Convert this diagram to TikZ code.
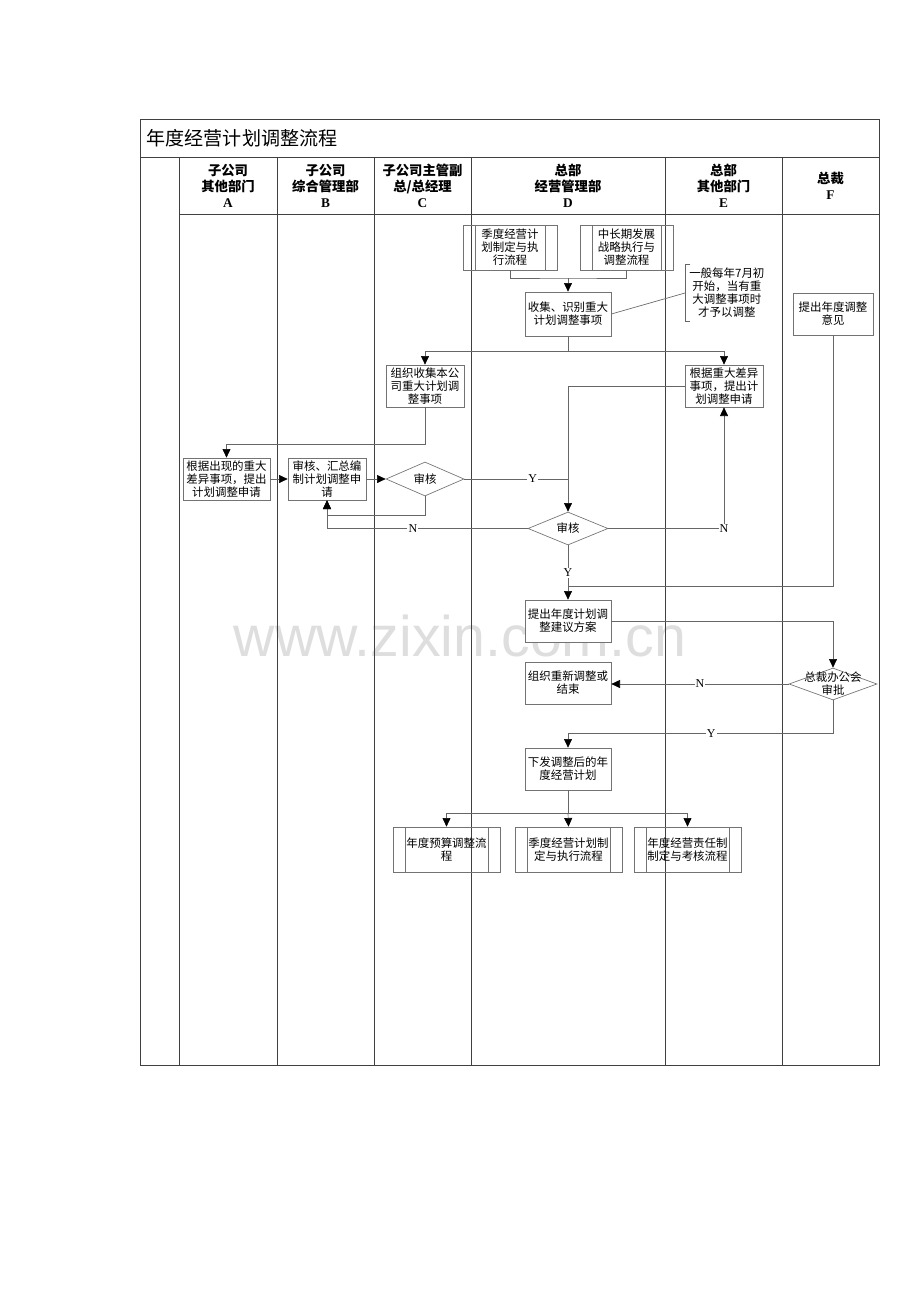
\documentclass[tikz,border=0pt]{standalone}
\usepackage{fontspec}
\setmainfont{Noto Sans CJK SC}
\newfontfamily\latinfont{Liberation Serif}
\newfontfamily\markfont{Liberation Sans}
\usetikzlibrary{arrows.meta,shapes.geometric}

\newcommand{\boxfont}{\fontsize{8.6pt}{9.8pt}\selectfont}
\newcommand{\headfont}{\fontsize{10pt}{12pt}\selectfont\bfseries}
\newcommand{\titlefont}{\fontsize{14.3pt}{16pt}\selectfont}
\newcommand{\ynfont}{\latinfont\fontsize{9pt}{10pt}\selectfont}

\tikzset{
  lane/.style={draw=black!75, line width=0.6pt},
  procbox/.style={rectangle, draw=black!55, line width=0.5pt, align=center, inner sep=1pt, font=\boxfont},
  subproc/.style={procbox, path picture={
      \draw[black!55] ([xshift=9pt]path picture bounding box.north west) -- ([xshift=9pt]path picture bounding box.south west)
        ([xshift=-9pt]path picture bounding box.north east) -- ([xshift=-9pt]path picture bounding box.south east);}},
  decide/.style={diamond, aspect=2.3, draw=black!55, line width=0.5pt, fill=white, inner sep=1pt, font=\boxfont},
  link/.style={draw=black!60, line width=0.5pt},
  flow/.style={link, -{Triangle[length=6.5pt,width=6pt,color=black]}},
  yn/.style={fill=white, inner sep=0.8pt, font=\ynfont},
  hdr/.style={align=center, font=\headfont},
}

\begin{document}
\begin{tikzpicture}[x=0.75pt,y=0.75pt,yscale=-1,xscale=1]
    \useasboundingbox (0,0) rectangle (920,1302);

    % watermark
    \node[font=\markfont\fontsize{43pt}{43pt}\selectfont, text=black!13] (mark) at (460,636) {www.zixin.com.cn};

    % frame and lanes
    \draw[lane, line width=0.7pt] (140,119) rectangle (879,1065);
    \draw[lane] (140,157) -- (879,157);
    \draw[lane] (179,214) -- (879,214);
    \foreach \lx in {179,277,374,471,665,782}
        \draw[lane] (\lx,157) -- (\lx,1065);

    % title and lane heads
    \node[anchor=west, font=\titlefont] (title) at (142,138) {年度经营计划调整流程};
    \node[hdr] (hA) at (228,186) {子公司\\其他部门\\{\latinfont A}};
    \node[hdr] (hB) at (325.5,186) {子公司\\综合管理部\\{\latinfont B}};
    \node[hdr] (hC) at (422.5,186) {子公司主管副\\总/总经理\\{\latinfont C}};
    \node[hdr] (hD) at (568,186) {总部\\经营管理部\\{\latinfont D}};
    \node[hdr] (hE) at (723.5,186) {总部\\其他部门\\{\latinfont E}};
    \node[hdr] (hF) at (830.5,186) {总裁\\{\latinfont F}};

    % steps
    \node[subproc, minimum width=70.5pt, minimum height=33.75pt] (qjd) at (510,247.5) {季度经营计\\划制定与执\\行流程};
    \node[subproc, minimum width=69.75pt, minimum height=33.75pt] (zcq) at (626.5,247.5) {中长期发展\\战略执行与\\调整流程};
    \node[procbox, minimum width=64.5pt, minimum height=33pt] (sj) at (568,314) {收集、识别重大\\计划调整事项};
    \node[align=center, font=\boxfont, inner xsep=3pt, inner ysep=2.5pt, anchor=west] (note) at (685,293) {一般每年7月初\\开始，当有重\\大调整事项时\\才予以调整};
    \node[procbox, minimum width=60pt, minimum height=31.5pt] (yj) at (833,314) {提出年度调整\\意见};
    \node[procbox, minimum width=58.5pt, minimum height=31.5pt] (zz) at (425,386) {组织收集本公\\司重大计划调\\整事项};
    \node[procbox, minimum width=58.5pt, minimum height=31.5pt] (gj) at (724,386) {根据重大差异\\事项，提出计\\划调整申请};
    \node[procbox, minimum width=65.25pt, minimum height=31.5pt] (ra) at (226.5,479) {根据出现的重大\\差异事项，提出\\计划调整申请};
    \node[procbox, minimum width=58.5pt, minimum height=31.5pt] (sh) at (327,479) {审核、汇总编\\制计划调整申\\请};
    \node[decide, minimum width=58.5pt, minimum height=25.5pt] (shC) at (425,479) {审核};
    \node[decide, minimum width=60pt, minimum height=24.75pt] (shD) at (568,528.5) {审核};
    \node[procbox, fill=white, minimum width=64.5pt, minimum height=31.5pt] (jy) at (568,621) {提出年度计划调\\整建议方案};
    \node[decide, minimum width=66pt, minimum height=24pt, label={[font=\boxfont, align=center]center:总裁办公会\\审批}] (shF) at (833,684) {};
    \node[procbox, minimum width=64.5pt, minimum height=31.5pt] (cx) at (568,683) {组织重新调整或\\结束};
    \node[procbox, minimum width=64.5pt, minimum height=31.5pt] (xf) at (568,769) {下发调整后的年\\度经营计划};
    \node[subproc, minimum width=80.25pt, minimum height=33.75pt] (ys) at (446.5,849.5) {年度预算调整流\\程};
    \node[subproc, minimum width=80.25pt, minimum height=33.75pt] (jd) at (568.5,849.5) {季度经营计划制\\定与执行流程};
    \node[subproc, minimum width=80.25pt, minimum height=33.75pt] (zr) at (687.5,849.5) {年度经营责任制\\制定与考核流程};

    % joints
    \coordinate (jA) at (568,278);
    \coordinate (jB) at (568,351);
    \coordinate (jD) at (568,586);
    \coordinate (jE) at (568,813);

    % connectors
    \draw[link] (qjd.south) |- (jA) -| (zcq.south);
    \draw[flow] (jA) -- (sj.north);
    \draw[link] ([xshift=4pt]note.north west) -- (note.north west) -- (note.south west) -- ([xshift=4pt]note.south west);
    \draw[link] (sj.east) -- (note.west);
    \draw[link] (sj.south) -- (jB);
    \draw[flow] (jB) -| (zz.north);
    \draw[flow] (jB) -| (gj.north);
    \draw[flow] (zz.south) -- ++(0,37) -| (ra.north);
    \draw[flow] (ra.east) -- (sh.west);
    \draw[flow] (sh.east) -- (shC.west);
    \draw[flow] (shC.south) -- ++(0,19) -| (sh.south);
    \draw[link] (shC.east) -- node[yn, pos=0.66]{Y} (shC.east -| shD.north);
    \draw[flow] (gj.west) -| (shD.north);
    \draw[flow] (shD.west) -| node[yn, pos=0.286]{N} (sh.south);
    \draw[flow] (shD.east) -| node[yn, pos=0.5]{N} (gj.south);
    \draw[flow] (shD.south) -- node[yn, pos=0.5]{Y} (jy.north);
    \draw[link] (yj.south) |- (jD);
    \draw[flow] (jy.east) -| (shF.north);
    \draw[flow] (shF.west) -- node[yn, pos=0.5]{N} (shF.west -| cx.east);
    \draw[flow] (shF.south) -- ++(0,33) -| node[yn, pos=0.23]{Y} (xf.north);
    \draw[link] (xf.south) -- (jE);
    \draw[flow] (jE) -| (ys.north);
    \draw[flow] (jE) -- (jd.north);
    \draw[flow] (jE) -| (zr.north);
\end{tikzpicture}
\end{document}
